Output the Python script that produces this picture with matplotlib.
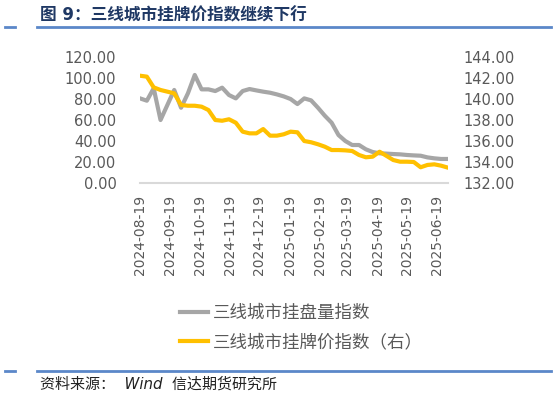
import matplotlib.pyplot as plt
import matplotlib.dates as mdates
import numpy as np
import pandas as pd
from matplotlib.lines import Line2D
from matplotlib.ticker import FormatStrFormatter

plt.rcParams['font.family'] = ['DejaVu Sans', 'Noto Sans CJK SC']

# weekly observations
dates = pd.date_range("2024-08-19", periods=46, freq="7D")

listing_volume = [80.3, 78.1, 89.9, 59.7, 74.0, 88.3, 71.4, 85.1, 102.6, 88.9,
                  88.9, 87.3, 90.5, 83.5, 80.3, 87.3, 89.2, 87.9, 86.7, 85.7,
                  84.1, 82.2, 79.7, 74.9, 80.3, 78.4, 71.4, 63.8, 57.1, 45.4,
                  39.7, 35.9, 35.9, 31.8, 29.2, 28.0, 27.7, 27.3, 27.0, 26.4,
                  26.0, 25.7, 24.1, 23.2, 22.6, 22.6]

listing_price = [142.19, 142.10, 141.08, 140.83, 140.67, 140.51, 139.40, 139.33, 139.33, 139.24,
                 138.92, 137.97, 137.90, 138.04, 137.71, 136.86, 136.70, 136.70, 137.11, 136.48,
                 136.48, 136.61, 136.86, 136.80, 135.97, 135.85, 135.66, 135.43, 135.11, 135.11,
                 135.08, 135.02, 134.64, 134.42, 134.48, 134.95, 134.56, 134.16, 134.00, 134.00,
                 133.97, 133.47, 133.69, 133.75, 133.62, 133.43]

label_volume = "三线城市挂盘量指数"
label_price = "三线城市挂牌价指数（右）"
title = "图 9：三线城市挂牌价指数继续下行"
source = "资料来源：  Wind  信达期货研究所"

W, H = 554, 397
GREY = "#A6A6A6"
GOLD = "#FFC000"
TXT = "#595959"
NAVY = "#1F3864"
RULE = "#5B87C9"


def fx(px):
    return px / W


def fy(py):
    return 1 - py / H


fig = plt.figure(figsize=(W / 100, H / 100), dpi=100)

# title and rules
fig.text(fx(40), fy(15), title, fontsize=12, fontweight='bold', color=NAVY,
         va='center', ha='left', family=['DejaVu Sans', 'Noto Sans CJK SC'])
for y in (27, 371):
    fig.add_artist(Line2D([fx(5), fx(15)], [fy(y), fy(y)], color=RULE, lw=2))
    fig.add_artist(Line2D([fx(37), fx(551)], [fy(y), fy(y)], color=RULE, lw=2))
fig.text(fx(40), fy(384), source, fontsize=10.8, style='italic', color='#222222',
         va='center', ha='left')

ax = fig.add_axes([fx(140), fy(182.7), fx(448) - fx(140), fy(56.7) - fy(182.7)])
ax2 = ax.twinx()

l1, = ax.plot(dates, listing_volume, color=GREY, lw=3, solid_joinstyle='round')
l2, = ax2.plot(dates, listing_price, color=GOLD, lw=3, solid_joinstyle='round')

ax.set_xlim(dates[0], dates[-1])
ax.set_ylim(0, 120)
ax2.set_ylim(132, 144)
ax.set_yticks(np.arange(0, 121, 20))
ax2.set_yticks(np.arange(132, 145, 2))
ax.yaxis.set_major_formatter(FormatStrFormatter('%.2f'))
ax2.yaxis.set_major_formatter(FormatStrFormatter('%.2f'))

ax.xaxis.set_major_locator(mdates.MonthLocator(bymonthday=19))
ax.xaxis.set_major_formatter(mdates.DateFormatter('%Y-%m-%d'))

for a in (ax, ax2):
    for s in a.spines.values():
        s.set_visible(False)
ax.spines['bottom'].set_visible(True)
ax.spines['bottom'].set_color('#D9D9D9')
ax.spines['bottom'].set_linewidth(1.5)

ax.tick_params(axis='y', length=0, pad=17, labelsize=10.5, labelcolor=TXT)
ax2.tick_params(axis='y', length=0, pad=11, labelsize=10.5, labelcolor=TXT)
ax.tick_params(axis='x', length=0, pad=9, labelsize=10, labelcolor=TXT, rotation=90)

fig.legend([l1, l2], [label_volume, label_price], loc='upper left',
           bbox_to_anchor=(fx(180), fy(304)), frameon=False,
           labelcolor=TXT, handlelength=1.6, handletextpad=0.3,
           labelspacing=0.65, borderpad=0, borderaxespad=0,
           prop={'family': ['Noto Sans CJK SC'], 'size': 12.6})

fig.savefig("out.png", dpi=100)
